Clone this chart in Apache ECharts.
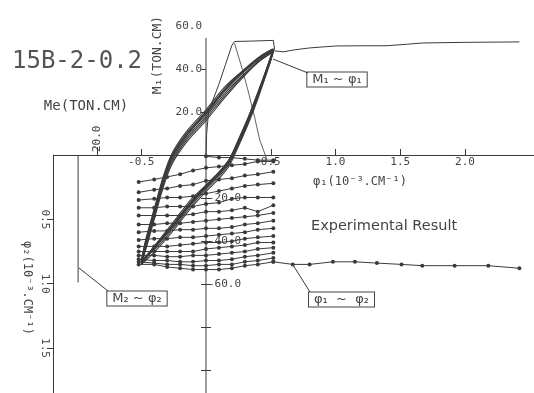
<!DOCTYPE html>
<html>
<head>
<meta charset="utf-8">
<script src="https://cdn.jsdelivr.net/npm/echarts@6/dist/echarts.min.js"></script>
<style>
  html, body { margin: 0; padding: 0; background: #fff; }
  #chart { width: 534px; height: 393px; }
</style>
</head>
<body>
<div id="chart"></div>
<script>
// ---- data ----
// M1 ~ phi1 hysteresis, shared phi1 stations for the reloading / unloading branches
const loadPhi = [-0.5, -0.46, -0.4, -0.33, -0.26, -0.15, 0, 0.15, 0.3, 0.42, 0.52];
const unloadPhi = [0.52, 0.49, 0.45, 0.4, 0.33, 0.25, 0.18, 0.1, 0, -0.12, -0.25, -0.38, -0.5];
const cycleLoadM1 = [
  [-49, -39, -26, -11, 0, 10, 20, 31, 40, 46, 49],
  [-50, -41, -28, -13, -2, 8, 18, 29, 38, 44.5, 48],
  [-51, -42, -29, -14, -3, 7, 17, 28, 37.5, 44, 48],
  [-50, -40, -27, -12, -1, 9, 19.5, 30.5, 39.5, 45.5, 49],
  [-49, -38, -25, -10, 1, 11, 21, 32, 40, 46, 49.5],
  [-51, -43, -30, -15, -4, 6, 16, 27, 37, 44, 48],
  [-50, -41, -27, -12, -1, 9, 19, 30, 39, 45, 48.5],
  [-50, -39, -26, -11, 0, 10, 20, 31, 39.5, 45.5, 49]
];
const cycleUnloadM1 = [
  [49, 43, 36, 27, 16, 5, -4, -10, -16, -24, -34, -43, -49],
  [48, 42, 35, 27, 16, 5, -3, -9, -15, -22, -32, -41, -50],
  [48, 43, 37, 29, 18, 7, -2, -8, -14, -22, -32, -42, -51],
  [49, 44, 37, 29, 18, 7, -2, -8, -14, -21, -31, -41, -50],
  [49.5, 44, 37, 28, 17, 6, -3, -9, -15, -23, -33, -42, -49],
  [48, 42, 35, 26, 15, 4, -5, -11, -17, -25, -35, -44, -51],
  [48.5, 43, 36, 28, 17, 6, -3, -9, -15, -23, -33, -42, -50],
  [49, 43.5, 36.5, 28.5, 17.5, 6.5, -2.5, -8.5, -14.5, -22.5, -32.5, -41.5, -50]
];
// first loading envelope and first unloading
const firstLoad = [[0, 0], [0.005, 10], [0.02, 20], [0.05, 25], [0.1, 33], [0.15, 42], [0.2, 51],
  [0.22, 52.8], [0.36, 53], [0.52, 53.3], [0.53, 49]];
const firstUnload = [[0.22, 52], [0.27, 42], [0.32, 31], [0.37, 19], [0.415, 7], [0.47, -2]];
// monotonic M1 ~ phi1
const monoPhi1 = [0.52, 0.6, 0.67, 0.8, 1.0, 1.2, 1.39, 1.55, 1.67, 2.0, 2.42];
const monoM1 = [48.5, 48, 48.8, 49.8, 50.7, 50.8, 50.8, 51.5, 52.1, 52.4, 52.6];

// phi1 ~ phi2, one row per half cycle
const phi1Grid = [-0.52, -0.4, -0.3, -0.2, -0.1, 0, 0.1, 0.2, 0.3, 0.4, 0.52];
const phi2Lines = [
  [null, null, null, null, null, 0.01, 0.02, 0.02, 0.03, 0.04, 0.04],
  [0.21, 0.19, 0.17, 0.15, 0.12, 0.10, 0.09, 0.08, 0.07, 0.05, 0.05],
  [0.29, 0.27, 0.26, 0.24, 0.23, 0.20, 0.19, 0.18, 0.16, 0.15, 0.13],
  [0.35, 0.34, 0.33, 0.33, 0.32, 0.30, 0.28, 0.26, 0.24, 0.23, 0.22],
  [0.41, 0.41, 0.40, 0.40, 0.40, 0.38, 0.37, 0.34, 0.33, 0.33, 0.33],
  [0.47, 0.47, 0.47, 0.47, 0.46, 0.44, 0.44, 0.43, 0.41, 0.44, 0.39],
  [0.54, 0.54, 0.53, 0.53, 0.52, 0.51, 0.50, 0.49, 0.48, 0.47, 0.45],
  [0.60, 0.59, 0.59, 0.58, 0.58, 0.57, 0.57, 0.56, 0.54, 0.53, 0.51],
  [0.66, 0.65, 0.65, 0.64, 0.64, 0.63, 0.62, 0.61, 0.60, 0.58, 0.57],
  [0.71, 0.71, 0.71, 0.70, 0.69, 0.68, 0.68, 0.67, 0.65, 0.64, 0.63],
  [0.75, 0.75, 0.75, 0.75, 0.75, 0.73, 0.72, 0.71, 0.70, 0.68, 0.68],
  [0.78, 0.78, 0.79, 0.79, 0.78, 0.78, 0.77, 0.76, 0.75, 0.73, 0.72],
  [0.81, 0.82, 0.82, 0.83, 0.83, 0.82, 0.82, 0.81, 0.79, 0.78, 0.76],
  [0.83, 0.84, 0.85, 0.85, 0.86, 0.86, 0.85, 0.85, 0.83, 0.82, 0.80],
  [0.85, 0.85, 0.87, 0.88, 0.89, 0.89, 0.89, 0.88, 0.86, 0.85, 0.83]
];
const tailPhi1 = [0.52, 0.67, 0.80, 0.98, 1.15, 1.32, 1.51, 1.67, 1.92, 2.18, 2.42];
const tailPhi2 = [0.83, 0.85, 0.85, 0.83, 0.83, 0.84, 0.85, 0.86, 0.86, 0.86, 0.88];

// M2 ~ phi2 (stays elastic)
const m2Line = [[11.3, 0], [11.3, 0.99]];

// axis ticks / labels
const phi1Ticks = [-0.5, 0.5, 1.0, 1.5, 2.0];
const m1PosLabels = [20, 40, 60];
const m1NegLabels = [-20, -40, -60];
const m1Ticks = [20, 40, -20, -40, -60, -80, -100];
const m1NegTicks = [-20, -40, -60, -80, -100];
const phi2Ticks = [0.5, 1.0, 1.5];
const m2Ticks = [20];
const m1AxisSpan = [[0, 54.4], [0, -111]];

const INK = '#3a3a3a';
const MONO = '"DejaVu Sans Mono", monospace';
const fix1 = v => Number(v).toFixed(1);

const chart = echarts.init(document.getElementById('chart'));

const zip = (xs, ys) => xs.map((x, i) => [x, ys[i]]);

const series = [];
const lineBase = {
  type: 'line', showSymbol: false, silent: true, animation: false,
  lineStyle: { color: INK, width: 1 }
};

series.push({ ...lineBase, xAxisIndex: 0, yAxisIndex: 0, data: m1AxisSpan });
series.push({ ...lineBase, xAxisIndex: 0, yAxisIndex: 0, data: firstLoad });
series.push({ ...lineBase, xAxisIndex: 0, yAxisIndex: 0, data: firstUnload, lineStyle: { color: INK, width: 0.8 } });
cycleLoadM1.forEach((m, i) => {
  const pts = zip(loadPhi, m).concat(zip(unloadPhi, cycleUnloadM1[i]).slice(1));
  series.push({ ...lineBase, xAxisIndex: 0, yAxisIndex: 0, data: pts, smooth: 0.3, lineStyle: { color: INK, width: 1.1 } });
});
series.push({ ...lineBase, xAxisIndex: 0, yAxisIndex: 0, data: zip(monoPhi1, monoM1) });

phi2Lines.forEach(row => {
  series.push({
    type: 'line', xAxisIndex: 1, yAxisIndex: 2, silent: true, animation: false,
    data: zip(phi1Grid, row), symbol: 'circle', symbolSize: 4, showSymbol: true,
    lineStyle: { color: INK, width: 1 }, itemStyle: { color: INK }
  });
});
series.push({
  type: 'line', xAxisIndex: 1, yAxisIndex: 2, silent: true, animation: false,
  data: zip(tailPhi1, tailPhi2), symbol: 'circle', symbolSize: 4,
  lineStyle: { color: INK, width: 1 }, itemStyle: { color: INK }
});
series.push({ ...lineBase, xAxisIndex: 2, yAxisIndex: 2, data: m2Line });

const labelFont = { fontFamily: MONO, fontSize: 11, color: '#444' };
const noSplit = { show: false };

const option = {
  backgroundColor: '#fff',
  animation: false,
  grid: [
    { left: 54, right: 0, top: 26, bottom: 0 },
    { left: 54, right: 0, top: 155, bottom: 0 }
  ],
  xAxis: [
    {
      type: 'value', gridIndex: 0, position: 'bottom', offset: -238,
      min: -152 / 129.5, max: 328 / 129.5,
      axisLine: { show: true, onZero: false, lineStyle: { color: INK, width: 1 } },
      axisTick: { show: true, inside: true, length: 6, customValues: phi1Ticks, lineStyle: { color: INK } },
      axisLabel: { ...labelFont, margin: 2, customValues: phi1Ticks, formatter: fix1 },
      splitLine: noSplit
    },
    {
      type: 'value', gridIndex: 1, show: false,
      min: -152 / 129.5, max: 328 / 129.5, splitLine: noSplit
    },
    {
      type: 'value', gridIndex: 1, position: 'top', offset: 0,
      min: 1 / 2.22, max: 1 / 2.22 + 480 / 2.22,
      axisLine: { show: false, onZero: false },
      axisTick: { show: true, length: 8, customValues: m2Ticks, lineStyle: { color: INK } },
      axisLabel: { ...labelFont, rotate: -90, margin: 3, customValues: m2Ticks, formatter: fix1 },
      splitLine: noSplit
    }
  ],
  yAxis: [
    {
      type: 'value', gridIndex: 0, position: 'left', offset: -152,
      min: -238 / 2.15, max: 60,
      axisLine: { show: false, onZero: false },
      axisTick: { show: true, length: 5, customValues: m1Ticks, lineStyle: { color: INK } },
      axisLabel: { ...labelFont, margin: 4, customValues: m1PosLabels, formatter: fix1 },
      splitLine: noSplit
    },
    {
      type: 'value', gridIndex: 0, position: 'right', offset: -328,
      min: -238 / 2.15, max: 60,
      axisLine: { show: false, onZero: false },
      axisTick: { show: true, length: 5, customValues: m1NegTicks, lineStyle: { color: INK } },
      axisLabel: { ...labelFont, margin: 2, customValues: m1NegLabels, formatter: fix1 },
      splitLine: noSplit
    },
    {
      type: 'value', gridIndex: 1, position: 'left', offset: 1, inverse: true,
      min: 0, max: 238 / 128.7,
      axisLine: { show: true, onZero: false, lineStyle: { color: INK, width: 1 } },
      axisTick: { show: true, length: 6, customValues: phi2Ticks, lineStyle: { color: INK } },
      axisLabel: { ...labelFont, rotate: -90, margin: 3, customValues: phi2Ticks, formatter: fix1 },
      splitLine: noSplit
    }
  ],
  graphic: [
    { type: 'text', x: 12, y: 62, style: { text: '15B-2-0.2', font: '24px ' + MONO, fill: '#555', align: 'left', verticalAlign: 'middle', textAlign: 'left', textVerticalAlign: 'middle' } },
    { type: 'text', x: 158, y: 55, rotation: Math.PI / 2, style: { text: 'M₁(TON.CM)', font: '13px ' + MONO, fill: '#444', align: 'center', verticalAlign: 'middle', textAlign: 'center', textVerticalAlign: 'middle' } },
    { type: 'text', x: 86, y: 106, style: { text: 'Me(TON.CM)', font: '14px ' + MONO, fill: '#444', align: 'center', verticalAlign: 'middle', textAlign: 'center', textVerticalAlign: 'middle' } },
    { type: 'text', x: 360, y: 182, style: { text: 'φ₁(10⁻³.CM⁻¹)', font: '12px ' + MONO, fill: '#444', align: 'center', verticalAlign: 'middle', textAlign: 'center', textVerticalAlign: 'middle' } },
    { type: 'text', x: 27, y: 288, rotation: -Math.PI / 2, style: { text: 'φ₂(10⁻³.CM⁻¹)', font: '12px ' + MONO, fill: '#444', align: 'center', verticalAlign: 'middle', textAlign: 'center', textVerticalAlign: 'middle' } },
    { type: 'text', x: 311, y: 226, style: { text: 'Experimental Result', font: '14.5px "DejaVu Sans", sans-serif', fill: '#444', align: 'left', verticalAlign: 'middle', textAlign: 'left', textVerticalAlign: 'middle' } },
    { type: 'text', x: 337, y: 79.5, style: { text: 'M₁ ~ φ₁', font: '13px "DejaVu Sans", sans-serif', fill: '#444', align: 'center', verticalAlign: 'middle', padding: [1, 5, 0, 5], borderColor: '#444', borderWidth: 1, backgroundColor: '#fff' } },
    { type: 'text', x: 137, y: 298.5, style: { text: 'M₂ ~ φ₂', font: '13px "DejaVu Sans", sans-serif', fill: '#444', align: 'center', verticalAlign: 'middle', padding: [1, 5, 0, 5], borderColor: '#444', borderWidth: 1, backgroundColor: '#fff' } },
    { type: 'text', x: 341.5, y: 299.5, style: { text: 'φ₁  ~  φ₂', font: '13px "DejaVu Sans", sans-serif', fill: '#444', align: 'center', verticalAlign: 'middle', padding: [1, 5, 0, 5], borderColor: '#444', borderWidth: 1, backgroundColor: '#fff' } },
    { type: 'line', shape: { x1: 273, y1: 59, x2: 308, y2: 73 }, style: { stroke: INK, lineWidth: 1 } },
    { type: 'line', shape: { x1: 79, y1: 268, x2: 108, y2: 291 }, style: { stroke: INK, lineWidth: 1 } },
    { type: 'line', shape: { x1: 293, y1: 265, x2: 310, y2: 292 }, style: { stroke: INK, lineWidth: 1 } }
  ],
  series: series
};

chart.setOption(option);
</script>
</body>
</html>
